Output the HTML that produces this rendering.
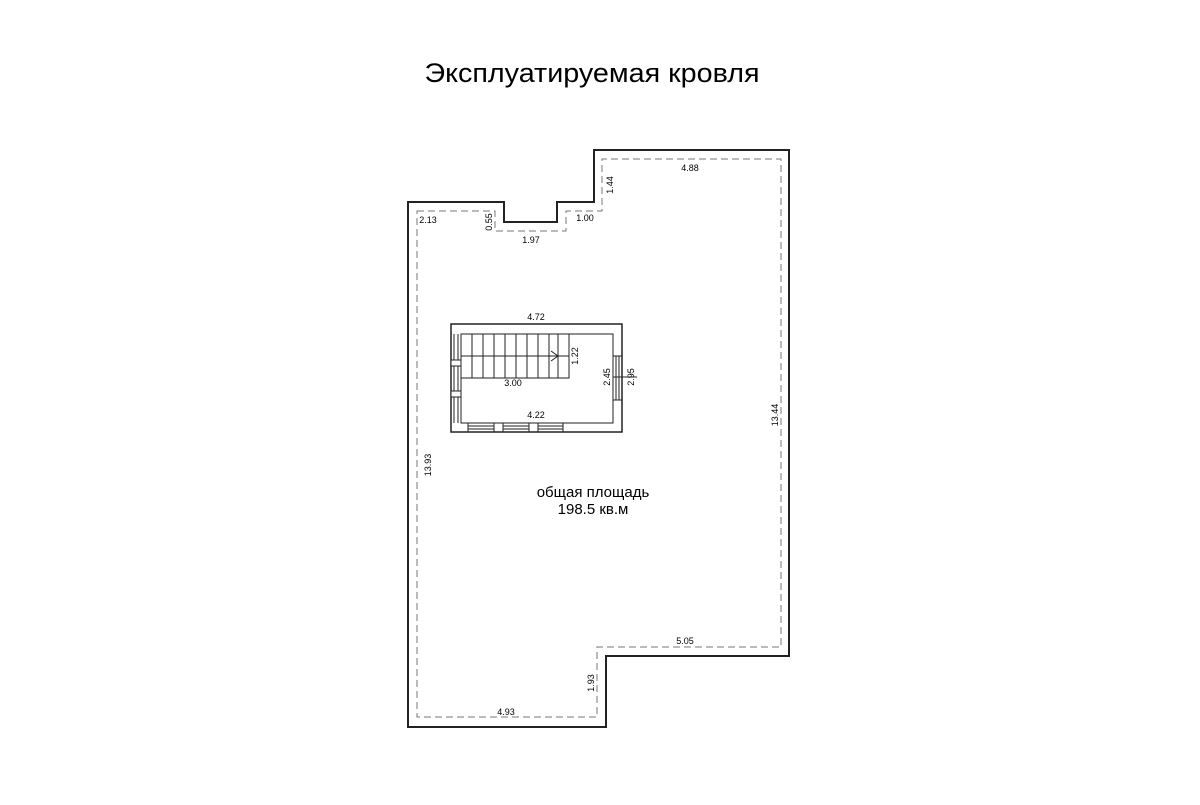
<!DOCTYPE html>
<html><head><meta charset="utf-8"><style>html,body{margin:0;padding:0;background:#fff}</style></head><body>
<svg width="1200" height="800" viewBox="0 0 1200 800" xmlns="http://www.w3.org/2000/svg" font-family="Liberation Sans, DejaVu Sans, sans-serif">
<rect width="1200" height="800" fill="#fff"/>
<text x="592" y="82" font-size="27" text-anchor="middle" textLength="335" lengthAdjust="spacingAndGlyphs" fill="#000">Эксплуатируемая кровля</text>
<path d="M408,202 H504 V222 H557 V202 H594 V150 H789 V656 H606 V727 H408 Z" fill="none" stroke="#222" stroke-width="2"/>
<path d="M417,211 H495 V231 H566 V211 H602 V159 H781 V647 H597 V717 H417 Z" fill="none" stroke="#777" stroke-width="1" stroke-dasharray="7,4"/>
<g font-size="9" fill="#000" text-anchor="middle">
<text x="690" y="171">4.88</text>
<text x="428" y="223">2.13</text>
<text x="531" y="243">1.97</text>
<text x="585" y="221">1.00</text>
<text x="685" y="644">5.05</text>
<text x="506" y="715">4.93</text>
<text transform="translate(613,185) rotate(-90)">1.44</text>
<text transform="translate(492,222) rotate(-90)">0.55</text>
<text transform="translate(431,465) rotate(-90)">13.93</text>
<text transform="translate(778,415) rotate(-90)">13.44</text>
<text transform="translate(594,683) rotate(-90)">1.93</text>
<text x="536" y="320">4.72</text>
<text x="513" y="386">3.00</text>
<text x="536" y="418">4.22</text>
<text transform="translate(578,356) rotate(-90)">1.22</text>
<text transform="translate(610,377) rotate(-90)">2.45</text>
<text transform="translate(634,377) rotate(-90)">2.95</text>
</g>
<g fill="none" stroke="#222" stroke-width="1">
<rect x="451" y="324" width="171" height="108" stroke-width="1.5"/>
<rect x="461" y="334" width="152" height="89"/>
<path d="M461,378 H569 V334 M461,356 H569"/>
<path d="M472,334V378 M483,334V378 M494,334V378 M505,334V378 M516,334V378 M527,334V378 M538,334V378 M549,334V378 M558,334V378"/>
<path d="M551,351 L558,356 L551,361"/>
<path d="M454,334V423 M458,334V423"/>
<rect x="451" y="360" width="10" height="6" fill="#fff"/>
<rect x="451" y="391" width="10" height="6" fill="#fff"/>
<path d="M616,356V400 M619,356V400 M613,356H622 M613,400H622 M613,377H637"/>
<path d="M468,426H494 M468,429H494 M503,426H529 M503,429H529 M538,426H563 M538,429H563 M468,423V432 M494,423V432 M503,423V432 M529,423V432 M538,423V432 M563,423V432"/>
</g>
<g font-size="15" fill="#000" text-anchor="middle">
<text x="593" y="497">общая площадь</text>
<text x="593" y="514">198.5 кв.м</text>
</g>
</svg>
</body></html>
